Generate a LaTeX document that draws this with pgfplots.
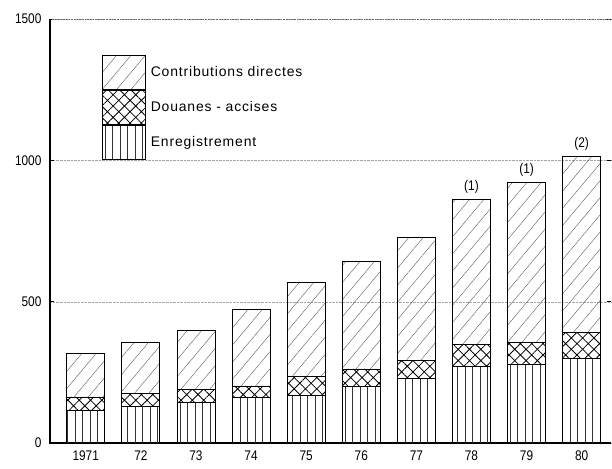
\documentclass[border=0pt]{standalone}
\usepackage{fontspec}
\setmainfont{Liberation Sans}
\newfontfamily\tickfont[FakeStretch=0.85]{Liberation Sans}
\newfontfamily\legfont[LetterSpace=6]{Liberation Sans}
\usepackage{pgfplots}
\pgfplotsset{compat=1.18}
\usetikzlibrary{patterns.meta}

% recettes par administration (1971-1980)
\pgfplotstableread{
x enreg douanes contrib
0 117 46 153
1 128 46 181
2 145 43 209
3 163 39 270
4 167 67 333
5 199 63 380
6 227 64 436
7 270 78 514
8 277 78 567
9 301 89 624
}\recettes

\begin{document}
\begin{tikzpicture}
\begin{axis}[
    scale only axis,
    width=561bp, height=424bp,
    ybar stacked, bar width=38bp,
    xmin=-0.65, xmax=9.53,
    ymin=0, ymax=1500,
    ytick={0,500,1000,1500},
    xtick={0,...,9},
    xticklabels={1971,72,73,74,75,76,77,78,79,80},
    tick label style={font=\tickfont\fontsize{14}{15}\selectfont},
    xticklabel style={yshift=-4bp},
    yticklabel style={xshift=-5bp},
    /pgf/number format/assume math mode=true,
    /pgf/number format/1000 sep={},
    ymajorgrids, grid style={densely dotted, black!35},
    major tick length=4bp,
    xtick style={draw=none},
    ytick style={black, line width=0.6pt},
    axis line style={draw=none},
    clip=false,
    legend style={draw=none, fill=none, at={(0.087,0.92)}, anchor=north west,
        font=\legfont\fontsize{14}{16}\selectfont, row sep=0pt,
        nodes={inner sep=0pt, anchor=west}},
    legend cell align=left,
    reverse legend,
    legend image code/.code={\draw[#1, line width=0.9pt] (0bp,-17bp) rectangle (43bp,17bp);},
]
\addplot[draw=black, line width=0.9pt,
    pattern={Lines[angle=90,distance=7.5bp,line width=0.5pt]}, pattern color=black!80]
    table[x=x, y=enreg] {\recettes};
\addlegendentry{\hspace{5bp}Enregistrement}
\addplot[draw=black, line width=0.9pt,
    pattern={Hatch[angle=45,distance=8bp,line width=0.8pt]}, pattern color=black]
    table[x=x, y=douanes] {\recettes};
\addlegendentry{\hspace{5bp}Douanes - accises}
\addplot[draw=black, line width=0.9pt,
    pattern={Lines[angle=50,distance=11bp,line width=0.35pt]}, pattern color=black!70]
    table[x=x, y=contrib] {\recettes};
\addlegendentry{\hspace{5bp}Contributions directes}

% cadre : gauche et bas pleins, haut pointillé
\draw[black, line width=1.2pt] (rel axis cs:0,1) -- (rel axis cs:0,0) -- (rel axis cs:1,0);
\draw[densely dotted, black!60, line width=0.6pt] (rel axis cs:0,1) -- (rel axis cs:1,1);

% renvois
\node[above, font=\tickfont\fontsize{14}{15}\selectfont] at (axis cs:7,872) {(1)};
\node[above, font=\tickfont\fontsize{14}{15}\selectfont] at (axis cs:8,932) {(1)};
\node[above, font=\tickfont\fontsize{14}{15}\selectfont] at (axis cs:9,1022) {(2)};

% cadre de l'image
\path (rel axis cs:-0.089,-0.059) rectangle (rel axis cs:1.002,1.045);
\end{axis}
\end{tikzpicture}
\end{document}
